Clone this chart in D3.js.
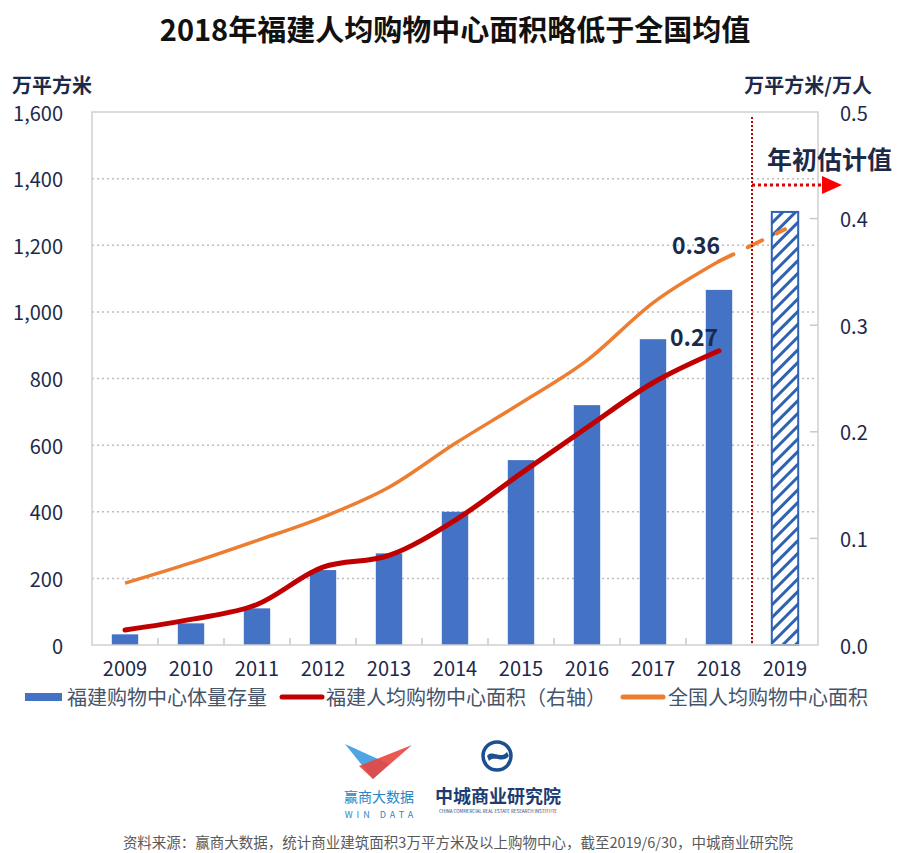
<!DOCTYPE html>
<html>
<head>
<meta charset="utf-8">
<script src="https://cdn.jsdelivr.net/npm/d3@7"></script>
<style>
  body { margin: 0; background: #fff; }
  text { font-family: "Noto Sans CJK SC", "Noto Sans", sans-serif; }
</style>
</head>
<body>
<script>
// values
const years = ["2009", "2010", "2011", "2012", "2013", "2014", "2015", "2016", "2017", "2018", "2019"];
const stock = [32, 65, 110, 225, 275, 400, 555, 720, 918, 1066, 1300];        // 万平方米, 2019 = estimate
const fujianPerCap = [0.014, 0.024, 0.038, 0.073, 0.084, 0.117, 0.161, 0.204, 0.246, 0.276];
const nationalPerCap = [0.058, 0.077, 0.098, 0.12, 0.148, 0.189, 0.227, 0.267, 0.321, 0.36];
const nationalEstimate = 0.39;   // 2019 dashed
const leftTicks = [0, 200, 400, 600, 800, 1000, 1200, 1400, 1600];
const rightTicks = [0, 0.1, 0.2, 0.3, 0.4, 0.5];

const W = 908, H = 853;
const plot = {left: 92, right: 818, top: 112, bottom: 645};
const navy = "#1c2a4a";

const svg = d3.select("body").append("svg")
  .attr("width", W)
  .attr("height", H);

const defs = svg.append("defs");
const hatch = defs.append("pattern")
  .attr("id", "hatch")
  .attr("patternUnits", "userSpaceOnUse")
  .attr("width", 9).attr("height", 9)
  .attr("patternTransform", "rotate(45)");
hatch.append("rect").attr("width", 9).attr("height", 9).attr("fill", "#fff");
hatch.append("rect").attr("x", 0).attr("width", 3).attr("height", 9).attr("fill", "#2f62b0");

const x = d3.scaleBand()
  .domain(years)
  .range([plot.left, plot.right])
  .paddingInner(0.6)
  .paddingOuter(0.3);

const yL = d3.scaleLinear().domain([0, 1600]).range([plot.bottom, plot.top]);
const yR = d3.scaleLinear().domain([0, 0.5]).range([plot.bottom, plot.top]);
const cx = d => x(d) + x.bandwidth() / 2;

// title
svg.append("text")
  .attr("x", 455).attr("y", 41)
  .attr("text-anchor", "middle")
  .style("font-size", "29px").style("font-weight", "bold")
  .attr("fill", "#111")
  .text("2018年福建人均购物中心面积略低于全国均值");

// axis titles
svg.append("text")
  .attr("x", 12).attr("y", 93)
  .style("font-size", "20px").style("font-weight", "bold")
  .attr("fill", navy)
  .text("万平方米");
svg.append("text")
  .attr("x", 872).attr("y", 93)
  .attr("text-anchor", "end")
  .style("font-size", "20px").style("font-weight", "bold")
  .attr("fill", navy)
  .text("万平方米/万人");

// gridlines
svg.append("g").selectAll("line")
  .data(leftTicks.filter(d => d > 0 && d < 1600))
  .enter().append("line")
  .attr("x1", plot.left).attr("x2", plot.right)
  .attr("y1", d => yL(d)).attr("y2", d => yL(d))
  .attr("stroke", "#bdbdbd")
  .attr("stroke-width", 1.5)
  .attr("stroke-dasharray", "2,3");

// left axis labels
const gL = svg.append("g")
  .attr("transform", "translate(" + plot.left + ",0)")
  .call(d3.axisLeft(yL).tickValues(leftTicks).tickFormat(d3.format(",")).tickSize(0).tickPadding(29));
gL.select(".domain").remove();
gL.selectAll("text").style("font-size", "20px").attr("fill", navy).attr("dy", "0.4em");

// right axis labels
const gR = svg.append("g")
  .attr("transform", "translate(" + plot.right + ",0)")
  .call(d3.axisRight(yR).tickValues(rightTicks).tickFormat(d3.format(".1f")).tickSize(0).tickPadding(22));
gR.select(".domain").remove();
gR.selectAll("text").style("font-size", "20px").attr("fill", navy).attr("dy", "0.4em");

// inward ticks on the right edge
svg.append("g").selectAll("line")
  .data(rightTicks.filter(d => d > 0 && d < 0.5))
  .enter().append("line")
  .attr("x1", plot.right - 8).attr("x2", plot.right)
  .attr("y1", d => yR(d)).attr("y2", d => yR(d))
  .attr("stroke", "#c8c8c8").attr("stroke-width", 1.5);

// bottom axis labels
const gX = svg.append("g")
  .attr("transform", "translate(0," + plot.bottom + ")")
  .call(d3.axisBottom(x).tickSize(0).tickPadding(17));
gX.select(".domain").remove();
gX.selectAll("text").style("font-size", "20px").attr("fill", navy);

// small category separators along the bottom
const step = x.step();
svg.append("g").selectAll("line")
  .data(years.slice(1))
  .enter().append("line")
  .attr("x1", d => x(d) - step * x.paddingInner() / 2)
  .attr("x2", d => x(d) - step * x.paddingInner() / 2)
  .attr("y1", plot.bottom - 7).attr("y2", plot.bottom)
  .attr("stroke", "#c8c8c8").attr("stroke-width", 1.5);

// bars
svg.selectAll(".bar")
  .data(years.map((y, i) => ({year: y, v: stock[i]})))
  .enter().append("rect")
  .attr("class", "bar")
  .attr("x", d => x(d.year))
  .attr("y", d => yL(d.v))
  .attr("width", x.bandwidth())
  .attr("height", d => yL(0) - yL(d.v))
  .attr("fill", d => d.year === "2019" ? "url(#hatch)" : "#4472c4")
  .attr("stroke", d => d.year === "2019" ? "#2f62b0" : "none")
  .attr("stroke-width", 2);

// frame
svg.append("rect")
  .attr("x", plot.left).attr("y", plot.top)
  .attr("width", plot.right - plot.left).attr("height", plot.bottom - plot.top)
  .attr("fill", "none")
  .attr("stroke", "#d0d0d0").attr("stroke-width", 1.5);

// lines
const line = d3.line()
  .x(d => cx(d.year))
  .y(d => yR(d.v))
  .curve(d3.curveMonotoneX);

svg.append("path")
  .datum(nationalPerCap.map((v, i) => ({year: years[i], v: v})))
  .attr("d", line)
  .attr("fill", "none")
  .attr("stroke", "#ed7d31").attr("stroke-width", 3.5);

svg.append("path")
  .datum([{year: "2018", v: nationalPerCap[9]}, {year: "2019", v: nationalEstimate}])
  .attr("d", line)
  .attr("fill", "none")
  .attr("stroke", "#ed7d31").attr("stroke-width", 4)
  .attr("stroke-dasharray", "16,16")
  .attr("stroke-linecap", "round");

svg.append("path")
  .datum(fujianPerCap.map((v, i) => ({year: years[i], v: v})))
  .attr("d", line)
  .attr("fill", "none")
  .attr("stroke", "#c00000").attr("stroke-width", 5)
  .attr("stroke-linecap", "round");

// value labels
svg.append("text")
  .attr("x", 696).attr("y", yR(nationalPerCap[9]) - 7)
  .attr("text-anchor", "middle")
  .style("font-size", "23px").style("font-weight", "bold")
  .attr("fill", navy)
  .text("0.36");
svg.append("text")
  .attr("x", 694).attr("y", yR(fujianPerCap[9]) - 5)
  .attr("text-anchor", "middle")
  .style("font-size", "23px").style("font-weight", "bold")
  .attr("fill", navy)
  .text("0.27");

// estimate marker: red dotted divider and arrow
const divX = x("2019") - step * x.paddingInner() / 2;
svg.append("line")
  .attr("x1", divX).attr("x2", divX)
  .attr("y1", plot.top + 5).attr("y2", plot.bottom)
  .attr("stroke", "#c00000").attr("stroke-width", 2)
  .attr("stroke-dasharray", "2,2");
svg.append("line")
  .attr("x1", divX).attr("x2", 824)
  .attr("y1", 185).attr("y2", 185)
  .attr("stroke", "#e00000").attr("stroke-width", 3)
  .attr("stroke-dasharray", "3,3");
svg.append("path")
  .attr("d", "M822,176 L842,185 L822,194 Z")
  .attr("fill", "#ff0000");
svg.append("text")
  .attr("x", 767).attr("y", 169)
  .style("font-size", "25px").style("font-weight", "bold")
  .attr("fill", navy)
  .text("年初估计值");

// legend
const legend = svg.append("g").style("font-size", "20px").attr("fill", "#44546a");
legend.append("rect").attr("x", 25).attr("y", 693).attr("width", 37).attr("height", 8).attr("fill", "#4472c4");
legend.append("text").attr("x", 67).attr("y", 705).text("福建购物中心体量存量");
legend.append("line").attr("x1", 282).attr("x2", 322).attr("y1", 697).attr("y2", 697)
  .attr("stroke", "#c00000").attr("stroke-width", 5).attr("stroke-linecap", "round");
legend.append("text").attr("x", 326).attr("y", 705).text("福建人均购物中心面积（右轴）");
legend.append("line").attr("x1", 623).attr("x2", 663).attr("y1", 697).attr("y2", 697)
  .attr("stroke", "#ed7d31").attr("stroke-width", 5).attr("stroke-linecap", "round");
legend.append("text").attr("x", 668).attr("y", 705).text("全国人均购物中心面积");

// logos
const logo1 = svg.append("g");
logo1.append("path").attr("d", "M345,744 L389,764 L373,779 Z").attr("fill", "#3c9be0").attr("opacity", 0.9);
logo1.append("path").attr("d", "M412,745 L359,766 L373,779 Z").attr("fill", "#e8463f").attr("opacity", 0.9);
logo1.append("text").attr("x", 379).attr("y", 802).attr("text-anchor", "middle")
  .style("font-size", "14px").attr("fill", "#2a86c5").text("赢商大数据");
logo1.append("text").attr("x", 381).attr("y", 818).attr("text-anchor", "middle")
  .style("font-size", "9px").style("letter-spacing", "4px").attr("fill", "#2a86c5").text("WIN DATA");

const logo2 = svg.append("g");
logo2.append("circle").attr("cx", 497).attr("cy", 756).attr("r", 14)
  .attr("fill", "none").attr("stroke", "#1d4f8f").attr("stroke-width", 3.5);
logo2.append("path").attr("d", "M487,756 C492,749 500,760 507,752 L509,756 C503,764 494,755 489,761 Z")
  .attr("fill", "#1d4f8f");
logo2.append("text").attr("x", 498).attr("y", 803).attr("text-anchor", "middle")
  .style("font-size", "18px").style("font-weight", "bold").attr("fill", "#1d3d72").text("中城商业研究院");
logo2.append("text").attr("x", 498).attr("y", 813).attr("text-anchor", "middle")
  .style("font-size", "4.5px").attr("fill", "#1d3d72").text("CHINA COMMERCIAL REAL ESTATE RESEARCH INSTITUTE");

// source
svg.append("text")
  .attr("x", 458).attr("y", 848)
  .attr("text-anchor", "middle")
  .style("font-size", "14.5px").attr("fill", "#595959")
  .text("资料来源：赢商大数据，统计商业建筑面积3万平方米及以上购物中心，截至2019/6/30，中城商业研究院");
</script>
</body>
</html>
